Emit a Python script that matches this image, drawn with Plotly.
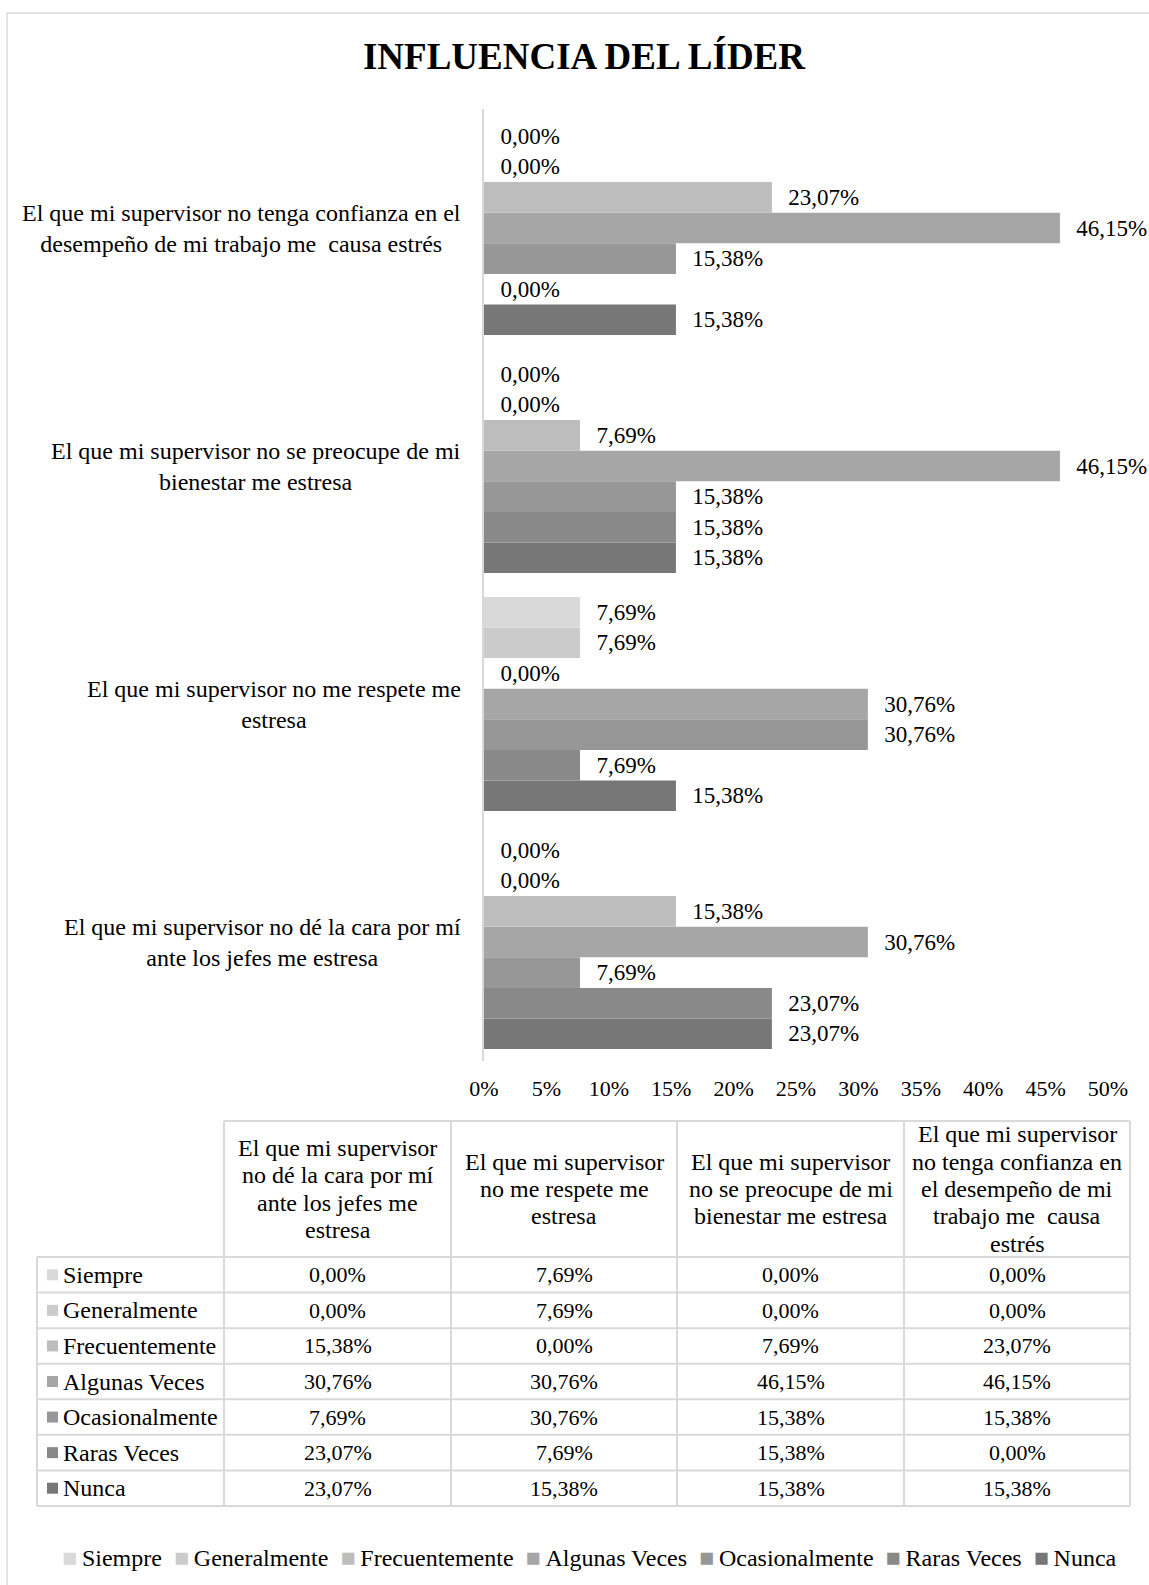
import plotly.graph_objects as go

# Survey items (bottom to top on the chart) and their wrapped forms
categories = [
    "El que mi supervisor no dé la cara por mí ante los jefes me estresa",
    "El que mi supervisor no me respete me estresa",
    "El que mi supervisor no se preocupe de mi bienestar me estresa",
    "El que mi supervisor no tenga confianza en el desempeño de mi trabajo me  causa estrés",
]
axis_labels = [
    "El que mi supervisor no dé la cara por mí<br>ante los jefes me estresa",
    "El que mi supervisor no me respete me<br>estresa",
    "El que mi supervisor no se preocupe de mi<br>bienestar me estresa",
    "El que mi supervisor no tenga confianza en el<br>desempeño de mi trabajo me\u00a0 causa estrés",
]
header_labels = [
    ["El que mi supervisor", "no dé la cara por mí", "ante los jefes me", "estresa"],
    ["El que mi supervisor", "no me respete me", "estresa"],
    ["El que mi supervisor", "no se preocupe de mi", "bienestar me estresa"],
    ["El que mi supervisor", "no tenga confianza en", "el desempeño de mi",
     "trabajo me\u00a0 causa", "estrés"],
]

# Response frequencies (%) per item, same order as categories
series_names = ["Siempre", "Generalmente", "Frecuentemente", "Algunas Veces",
                "Ocasionalmente", "Raras Veces", "Nunca"]
siempre = [0.00, 7.69, 0.00, 0.00]
generalmente = [0.00, 7.69, 0.00, 0.00]
frecuentemente = [15.38, 0.00, 7.69, 23.07]
algunas_veces = [30.76, 30.76, 46.15, 46.15]
ocasionalmente = [7.69, 30.76, 15.38, 15.38]
raras_veces = [23.07, 7.69, 15.38, 0.00]
nunca = [23.07, 15.38, 15.38, 15.38]
series_values = [siempre, generalmente, frecuentemente, algunas_veces,
                 ocasionalmente, raras_veces, nunca]
series_colors = ["#d9d9d9", "#cbcbcb", "#bdbdbd", "#a6a6a6",
                 "#979797", "#898989", "#777777"]
x_ticks = [0, 5, 10, 15, 20, 25, 30, 35, 40, 45, 50]

FONT = "Times New Roman, Liberation Serif, serif"
GRID = "#d9d9d9"

W, H = 1149, 1585
ML, MR, MT, MB = 484, 41, 109, 524
LINE_STEP = 27.3  # spacing between lines of the table headers


def px(x):
    return (x - ML) / (W - ML - MR)


def py(y):
    return (H - MB - y) / (H - MT - MB)


def pct(v):
    return f"{v:.2f}%".replace(".", ",")


fig = go.Figure()

# Nunca first so that Siempre ends up on top inside each group
for name, vals, col in reversed(list(zip(series_names, series_values, series_colors))):
    fig.add_trace(go.Bar(
        y=categories, x=vals, orientation="h", name=name,
        marker=dict(color=col, line=dict(width=0)),
        text=["\u00a0\u00a0\u200a" + pct(v) for v in vals],
        textposition="outside", constraintext="none", cliponaxis=False,
        textfont=dict(family=FONT, size=23, color="#000000"),
        hoverinfo="skip", showlegend=False,
    ))

annotations = []
shapes = []

# Item labels left of the axis
for cat, lab in zip(categories, axis_labels):
    annotations.append(dict(
        x=0, xref="paper", xanchor="right", xshift=-21,
        y=cat, yref="y", yanchor="middle",
        text=lab, align="center", showarrow=False,
        font=dict(family=FONT, size=24, color="#000000"),
    ))

# ---- data table below the chart ----
col_edges = [224, 451, 677, 904, 1130]
row_label_left = 37
header_top, header_bottom = 1121, 1257
table_bottom = 1506
n_rows = len(series_names)
row_h = (table_bottom - header_bottom) / n_rows
row_edges = [header_bottom + k * row_h for k in range(n_rows + 1)]

line = dict(color=GRID, width=2)
shapes.append(dict(type="line", xref="paper", yref="paper",
                   x0=px(col_edges[0]), x1=px(col_edges[-1]),
                   y0=py(header_top), y1=py(header_top), line=line))
for ye in row_edges:
    shapes.append(dict(type="line", xref="paper", yref="paper",
                       x0=px(row_label_left), x1=px(col_edges[-1]),
                       y0=py(ye), y1=py(ye), line=line))
for xe in col_edges:
    shapes.append(dict(type="line", xref="paper", yref="paper",
                       x0=px(xe), x1=px(xe),
                       y0=py(header_top), y1=py(table_bottom), line=line))
shapes.append(dict(type="line", xref="paper", yref="paper",
                   x0=px(row_label_left), x1=px(row_label_left),
                   y0=py(header_bottom), y1=py(table_bottom), line=line))

header_mid = (header_top + header_bottom) / 2
for j, lines in enumerate(header_labels):
    n = len(lines)
    for k, txt in enumerate(lines):
        annotations.append(dict(
            x=px((col_edges[j] + col_edges[j + 1]) / 2), xref="paper", xanchor="center",
            y=py(header_mid + (k - (n - 1) / 2) * LINE_STEP), yref="paper",
            yanchor="middle", text=txt, showarrow=False,
            font=dict(family=FONT, size=24, color="#000000"),
        ))

for i, (name, vals, col) in enumerate(zip(series_names, series_values, series_colors)):
    yc = (row_edges[i] + row_edges[i + 1]) / 2
    shapes.append(dict(type="rect", xref="paper", yref="paper",
                       x0=px(47), x1=px(58), y0=py(yc + 5.5), y1=py(yc - 5.5),
                       fillcolor=col, line=dict(width=0)))
    annotations.append(dict(
        x=px(61), xref="paper", xanchor="left",
        y=py(yc), yref="paper", yanchor="middle",
        text=name, showarrow=False,
        font=dict(family=FONT, size=24, color="#000000"),
    ))
    for j, v in enumerate(vals):
        annotations.append(dict(
            x=px((col_edges[j] + col_edges[j + 1]) / 2), xref="paper", xanchor="center",
            y=py(yc), yref="paper", yanchor="middle",
            text=pct(v), showarrow=False,
            font=dict(family=FONT, size=22, color="#000000"),
        ))

# ---- legend row at the bottom ----
legend_text = "\u00a0\u00a0".join(
    f"<span style='color:{c};font-size:25px'>■</span>\u2009{n}"
    for n, c in zip(series_names, series_colors)
)
annotations.append(dict(
    x=px(589), xref="paper", xanchor="center",
    y=py(1557), yref="paper", yanchor="middle",
    text=legend_text, showarrow=False,
    font=dict(family=FONT, size=24, color="#000000"),
))

# Outer chart frame
shapes.append(dict(type="rect", xref="paper", yref="paper",
                   x0=px(7), x1=px(1200), y0=py(13), y1=py(1700),
                   line=dict(color=GRID, width=1.5), fillcolor="rgba(0,0,0,0)",
                   layer="below"))

fig.update_layout(
    width=W, height=H,
    margin=dict(l=ML, r=MR, t=MT, b=MB, autoexpand=False),
    paper_bgcolor="#ffffff", plot_bgcolor="#ffffff",
    barmode="group", bargap=0.1, bargroupgap=0,
    showlegend=False,
    title=dict(text="<b>INFLUENCIA DEL LÍDER</b>", x=584 / W, xanchor="center",
               xref="container", y=1 - 56 / H, yanchor="middle", yref="container",
               font=dict(family=FONT, size=37, color="#000000")),
    xaxis=dict(range=[0, 50], tickvals=x_ticks, ticktext=[f"{t}%" for t in x_ticks],
               showgrid=False, zeroline=False, showline=False,
               ticks="outside", ticklen=8, tickcolor="rgba(0,0,0,0)",
               tickfont=dict(family=FONT, size=22, color="#000000"), fixedrange=True),
    yaxis=dict(type="category", categoryorder="array", categoryarray=categories,
               showticklabels=False, ticks="", showgrid=False, zeroline=False,
               showline=True, linecolor=GRID, linewidth=2, fixedrange=True),
    annotations=annotations,
    shapes=shapes,
)

fig.write_html("out.html")
